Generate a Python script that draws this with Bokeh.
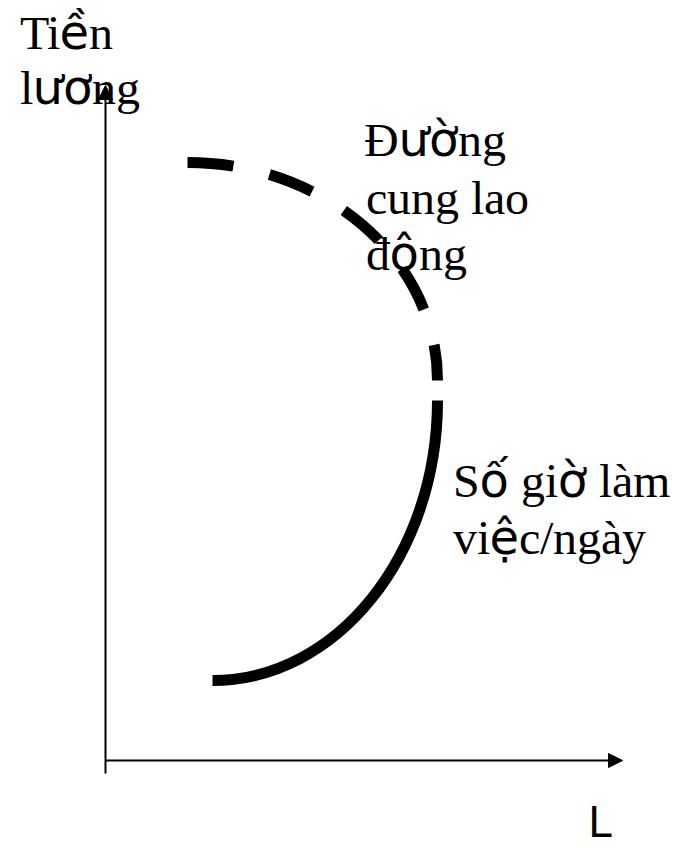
from jinja2 import Template
from bokeh.plotting import figure
from bokeh.models import Arrow, NormalHead, Range1d, ColumnDataSource
from bokeh.core.properties import value
from bokeh.embed import file_html
from bokeh.resources import INLINE

# Backward-bending labour supply: L on the horizontal axis, wage on the vertical.
# Lower branch (solid): hours worked rise with the wage.
lower_start = (107, 80)
lower_ctrl0 = (231, 80)
lower_ctrl1 = (332, 205)
lower_end = (332, 360)

# Upper branch (dashed): above the turning point hours fall as the wage rises.
upper_start = (82, 598)
upper_ctrl0 = (220, 598)
upper_ctrl1 = (332, 500)
upper_end = (332, 380)

# Axis extents
x_axis_end = 517
y_axis_end = 675
y_axis_below = -13

# Text labels (one entry per line)
serif_lines = ["Tiền", "lương", "Đường", "cung lao", "động", "Số giờ làm", "việc/ngày"]
x_label = "L"

# Serif face limited to Latin-1 / Extended-A; Vietnamese letters beyond that
# fall back to DejaVu Sans.
page = Template("""{% extends base %}
{% block preamble %}
<style>
@font-face {
  font-family: "SerifLatin";
  src: local("Liberation Serif"), local("LiberationSerif");
  unicode-range: U+0000-017F;
}
</style>
{% endblock %}""")

p = figure(width=674, height=848,
           x_range=Range1d(-105, 569), y_range=Range1d(-88, 760),
           x_axis_type=None, y_axis_type=None,
           toolbar_location=None, output_backend="svg",
           min_border=0, outline_line_color=None,
           background_fill_color="white", border_fill_color="white")
p.grid.visible = False

# labels sit beneath the curves and axes
label_src = ColumnDataSource(dict(
    text=serif_lines,
    x=[-86, -86, 258, 260, 260, 347, 347],
    y=[728, 673, 621, 563, 507, 280, 223],
))
p.text(x="x", y="y", text="text", source=label_src,
       text_font=value("SerifLatin, 'DejaVu Sans'"), text_font_size=value("48px"),
       text_color="black", text_align="left", text_baseline="alphabetic")

p.text(x=[483], y=[-61], text=[x_label],
       text_font=value("Liberation Sans"), text_font_size=value("44px"),
       text_color="black", text_align="left", text_baseline="alphabetic")

# supply curve
p.bezier(x0=[lower_start[0]], y0=[lower_start[1]],
         x1=[lower_end[0]], y1=[lower_end[1]],
         cx0=[lower_ctrl0[0]], cy0=[lower_ctrl0[1]],
         cx1=[lower_ctrl1[0]], cy1=[lower_ctrl1[1]],
         line_color="black", line_width=11)
p.bezier(x0=[upper_start[0]], y0=[upper_start[1]],
         x1=[upper_end[0]], y1=[upper_end[1]],
         cx0=[upper_ctrl0[0]], cy0=[upper_ctrl0[1]],
         cx1=[upper_ctrl1[0]], cy1=[upper_ctrl1[1]],
         line_color="black", line_width=11, line_dash="46 37")

# axes with arrow heads
p.add_layout(Arrow(end=NormalHead(size=14, fill_color="black", line_color="black"),
                   x_start=0, y_start=0, x_end=x_axis_end, y_end=0,
                   line_color="black", line_width=2))
p.add_layout(Arrow(end=NormalHead(size=14, fill_color="black", line_color="black"),
                   x_start=0, y_start=y_axis_below, x_end=0, y_end=y_axis_end,
                   line_color="black", line_width=2))

open("out.html", "w").write(file_html(p, INLINE, template=page))
